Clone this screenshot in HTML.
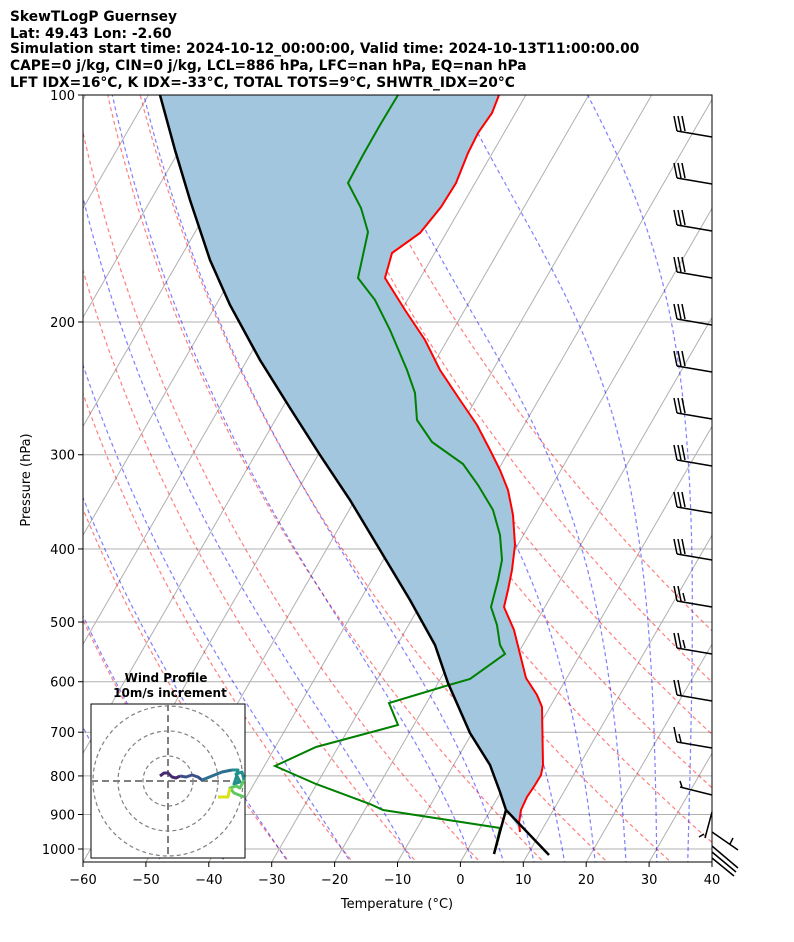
<!DOCTYPE html>
<html><head><meta charset="utf-8"><style>
body{margin:0;background:#fff;}
svg text{font-family:"DejaVu Sans","Liberation Sans",sans-serif;}
</style></head><body>
<svg id="s" width="794" height="937" xmlns="http://www.w3.org/2000/svg">
<defs><clipPath id="c"><rect x="83" y="95" width="629" height="767"/></clipPath></defs>
<rect width="794" height="937" fill="#fff"/>
<g id="bg" clip-path="url(#c)"></g>
<g clip-path="url(#c)">
<polygon fill="#a2c6de" points="160,95 175,150 190,200 210,260 230,305 260,360 290,408 320,455 350,500 380,550 410,600 435,645 448,683 470,733 490,765 500,792 506,810 520,830 519,823 521,810 527,797 535,785 541,775 543,765 542,707 537,695 526,678 514,630 504,607 508,590 512,570 515,545 513,515 508,490 500,470 490,450 477,425 460,400 440,370 425,340 405,310 385,278 392,253 420,233 441,207 456,183 468,153 478,133 492,113 499,95"/>
<polyline fill="none" stroke="#f00" stroke-width="2" points="499,95 492,113 478,133 468,153 456,183 441,207 420,233 392,253 385,278 405,310 425,340 440,370 460,400 477,425 490,450 500,470 508,490 513,515 515,545 512,570 508,590 504,607 514,630 526,678 537,695 542,707 543,765 541,775 535,785 527,797 521,810 519,823 520,832"/>
<polyline fill="none" stroke="#008000" stroke-width="2" points="398,95 380,125 363,155 348,183 361,208 368,232 363,255 358,278 375,300 390,330 407,370 415,393 417,420 432,442 463,464 478,485 493,510 500,535 502,560 498,580 491,607 497,625 500,645 505,654 470,679 449,685 389,703 398,725 316,747 275,766 316,784 370,804 383,810 500,828 494,854"/>
<polyline fill="none" stroke="#000" stroke-width="2.5" points="160,95 175,150 190,200 210,260 230,305 260,360 290,408 320,455 350,500 380,550 410,600 435,645 448,683 470,733 490,765 500,792 506,810 549,855"/>
<polyline fill="none" stroke="#000" stroke-width="2.5" points="506,810 501,828 494,854"/>
</g>
<g id="barbs" stroke="#000" stroke-width="1.5" fill="none"></g>
<rect x="83" y="95" width="629" height="767" fill="none" stroke="#000" stroke-width="1"/>
<g id="ax" font-size="13"></g>
<g font-size="13.8" font-weight="bold">
<text x="10" y="21">SkewTLogP Guernsey</text>
<text x="10" y="38">Lat: 49.43   Lon: -2.60</text>
<text x="10" y="53">Simulation start time: 2024-10-12_00:00:00, Valid time: 2024-10-13T11:00:00.00</text>
<text x="10" y="70">CAPE=0 j/kg, CIN=0 j/kg, LCL=886 hPa, LFC=nan hPa, EQ=nan hPa</text>
<text x="10" y="87">LFT IDX=16°C, K IDX=-33°C, TOTAL TOTS=9°C, SHWTR_IDX=20°C</text>
</g>
<text x="397" y="908" font-size="13" text-anchor="middle">Temperature (°C)</text>
<text x="30" y="480" font-size="13" text-anchor="middle" transform="rotate(-90 30 480)">Pressure (hPa)</text>
<rect x="91" y="704" width="154" height="154" fill="#fff" stroke="#000"/>
<g fill="none" stroke="#808080" stroke-dasharray="4,3" stroke-width="1.2">
<circle cx="168" cy="781" r="25"/><circle cx="168" cy="781" r="50"/><circle cx="168" cy="781" r="75"/>
</g>
<g stroke="#808080" stroke-dasharray="7,4" stroke-width="2"><line x1="168" y1="704" x2="168" y2="858"/><line x1="91" y1="781" x2="245" y2="781"/></g>
<g fill="none" stroke-width="3" stroke-linejoin="round">
<polyline stroke="#46296e" points="160,776 164,773 168,773 172,777 176,778 180,776"/>
<polyline stroke="#3b4f8a" points="180,776 186,777 192,775 198,777 202,780"/>
<polyline stroke="#2c6f8e" points="202,780 212,776 222,772 232,770"/>
<polyline stroke="#21908d" points="232,770 238,770 236,778 234,784 240,782 236,774 242,772 244,780"/>
<polyline stroke="#5ec962" points="244,780 240,788 236,786 230,788 234,793 244,797"/>
<polyline stroke="#d8e219" points="230,788 228,797 218,797"/>
</g>
<text x="166" y="682" font-size="12" font-weight="bold" text-anchor="middle">Wind Profile</text>
<text x="170" y="697" font-size="12" font-weight="bold" text-anchor="middle">10m/s increment</text>
</svg>
<script>
(function(){
var NS="http://www.w3.org/2000/svg";
function Y(p){return 95+754*Math.log10(p/100);}
function X(T,p){return 83+(T+60)*6.29+0.5774*(862-Y(p));}
function el(parent,tag,attrs,txt){var e=document.createElementNS(NS,tag);for(var k in attrs)e.setAttribute(k,attrs[k]);if(txt)e.textContent=txt;parent.appendChild(e);return e;}
var bg=document.getElementById('bg');
var ps=[];for(var p=1050;p>=100;p-=5)ps.push(p);
for(var T=-160;T<=60;T+=10){el(bg,'line',{x1:X(T,1040),y1:862,x2:X(T,100),y2:95,stroke:'#b0b0b0','stroke-width':1});}
for(var p=100;p<=1000;p+=100){el(bg,'line',{x1:83,y1:Y(p),x2:712,y2:Y(p),stroke:'#b0b0b0','stroke-width':1});}
for(var th=-40;th<=80;th+=10){var pts=ps.map(function(p){var t=(th+273.15)*Math.pow(p/1000,0.2857)-273.15;return X(t,p).toFixed(1)+','+Y(p).toFixed(1);});
el(bg,'polyline',{points:pts.join(' '),fill:'none',stroke:'#ff0000','stroke-opacity':0.5,'stroke-dasharray':'4,3','stroke-width':1.2});}
function rs(Tc,p){var es=6.112*Math.exp(17.67*Tc/(Tc+243.5));return 0.622*es/(p-es);}
var t0s=[-50,-40,-30,-20,-10,0,5,10,15,20,25,30,35];
t0s.forEach(function(t0){var t=t0+273.15,p=1000,pts=[];
 var tt=t,pp=1000;var down=[];
 for(;pp<1050;){var r=rs(tt-273.15,pp);var d=(287*tt+2.5e6*r)/(1004+2.5e6*2.5e6*r*0.622/(287*tt*tt))/pp;tt+=d*5;pp+=5;down.push([tt,pp]);}
 down.reverse().forEach(function(a){pts.push(X(a[0]-273.15,a[1]).toFixed(1)+','+Y(a[1]).toFixed(1));});
 for(;p>=100;p-=5){pts.push(X(t-273.15,p).toFixed(1)+','+Y(p).toFixed(1));var r=rs(t-273.15,p);var d=(287*t+2.5e6*r)/(1004+2.5e6*2.5e6*r*0.622/(287*t*t))/p;t-=d*5;}
 el(bg,'polyline',{points:pts.join(' '),fill:'none',stroke:'#0000ff','stroke-opacity':0.5,'stroke-dasharray':'4,3','stroke-width':1.2});});
var ax=document.getElementById('ax');
for(var T=-60;T<=40;T+=10){var x=83+(T+60)*6.29;el(ax,'line',{x1:x,y1:862,x2:x,y2:867,stroke:'#000'});el(ax,'text',{x:x,y:884,'text-anchor':'middle','font-size':13},(T<0?'\u2212'+(-T):''+T));}
for(var p=100;p<=1000;p+=100){var y=Y(p);el(ax,'line',{x1:78,y1:y,x2:83,y2:y,stroke:'#000'});el(ax,'text',{x:75,y:y+5,'text-anchor':'end','font-size':13},''+p);}
var b=document.getElementById('barbs');
var nb=[3,3,3,3,3,3,3,3,3,3,2.5,2.5,2,1.5,1,1];
for(var k=0;k<14;k++){var y=137+47*k;var n=nb[k];var lx=677,ly=y-6;
 el(b,'line',{x1:712,y1:y,x2:lx,y2:ly});
 var i=0;while(n>=1){el(b,'line',{x1:lx+i*4,y1:ly,x2:lx-3+i*4,y2:ly-15});n-=1;i++;}
 if(n>0){el(b,'line',{x1:lx+i*4,y1:ly,x2:lx-2+i*4,y2:ly-8});}}
el(b,'line',{x1:712,y1:795,x2:680,y2:787});el(b,'line',{x1:682,y1:787,x2:680,y2:781});
el(b,'line',{x1:712,y1:812,x2:705,y2:838});el(b,'line',{x1:704,y1:834,x2:699,y2:837});
el(b,'line',{x1:712,y1:832,x2:738,y2:850});el(b,'line',{x1:730,y1:844,x2:733,y2:838});
el(b,'line',{x1:712,y1:846,x2:738,y2:868});el(b,'line',{x1:712,y1:852,x2:736,y2:872});el(b,'line',{x1:712,y1:858,x2:734,y2:876});
})();
</script>
</body></html>
